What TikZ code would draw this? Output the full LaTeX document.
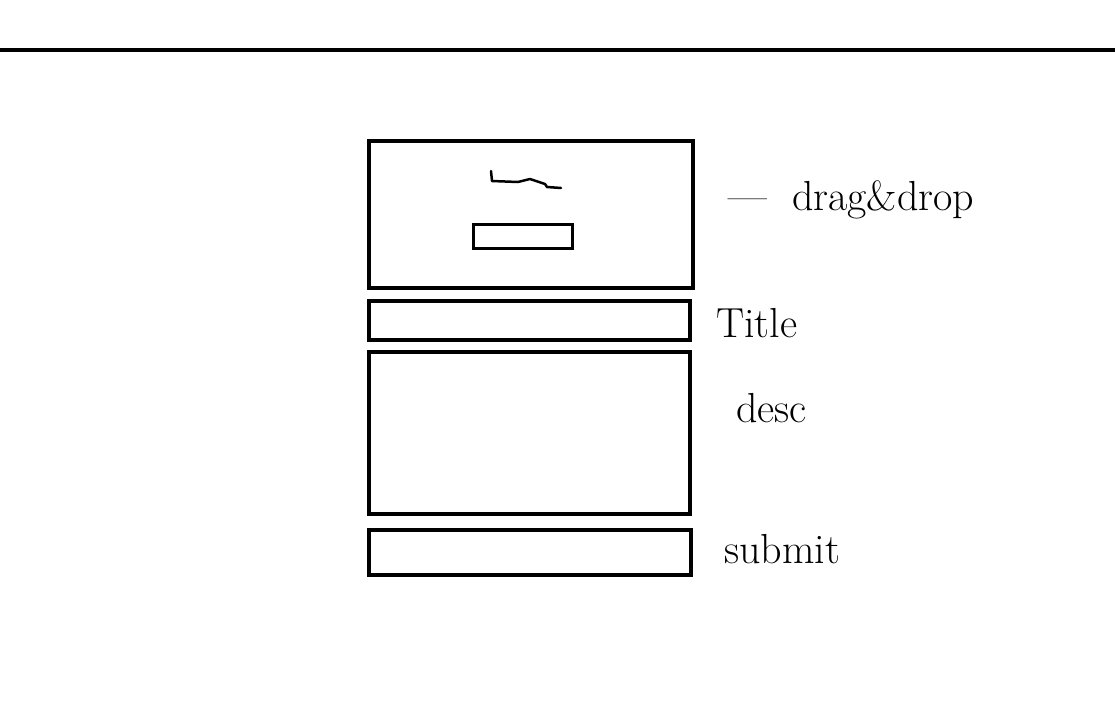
\documentclass[tikz,border=0pt]{standalone}
\usepackage{tikz}
\usetikzlibrary{positioning}
\tikzset{
  panel/.style={rectangle, draw=black, line width=4pt, inner sep=0pt},
  smallbtn/.style={rectangle, draw=black, line width=3pt, inner sep=0pt,
    minimum width=99pt, minimum height=24pt},
  note/.style={anchor=west, inner sep=0pt, font=\fontsize{42}{48}\selectfont},
}

\begin{document}
\begin{tikzpicture}[x=1pt, y=-1pt]

\useasboundingbox (0,0) rectangle (1115,701);

% ── Header rule ──
\coordinate (ruleL) at (0,50);
\coordinate (ruleR) at (1115,50);
\draw[line width=4.5pt] (ruleL) -- (ruleR);

% ── Form column ──
\node[panel, minimum width=324pt, minimum height=147pt] (dropzone) at (531,214.5) {};
\node[smallbtn] (dropbtn) at (522.5,236) {};
\node[panel, minimum width=321pt, minimum height=39pt] (titlebox) at (529.5,320.5) {};
\node[panel, minimum width=321pt, minimum height=162pt] (descbox) at (529.5,433) {};
\node[panel, minimum width=322pt, minimum height=45pt] (submitbox) at (530,552.5) {};

% scribble inside the drop zone
\draw[line width=2.5pt, line join=round, line cap=round]
  (491,171) -- (492,181) -- (518,182) -- (530,179) -- (545,184) -- (547,187) -- (561,188);

% ── Notes ──
\node[note] (dropnote) at (728,200) {--- \ drag\&drop};
\node[note] (titlenote) at (716,323) {Title};
\node[note] (descnote) at (736,408) {desc};
\node[note] (submitnote) at (724,549) {submit};

\end{tikzpicture}
\end{document}
